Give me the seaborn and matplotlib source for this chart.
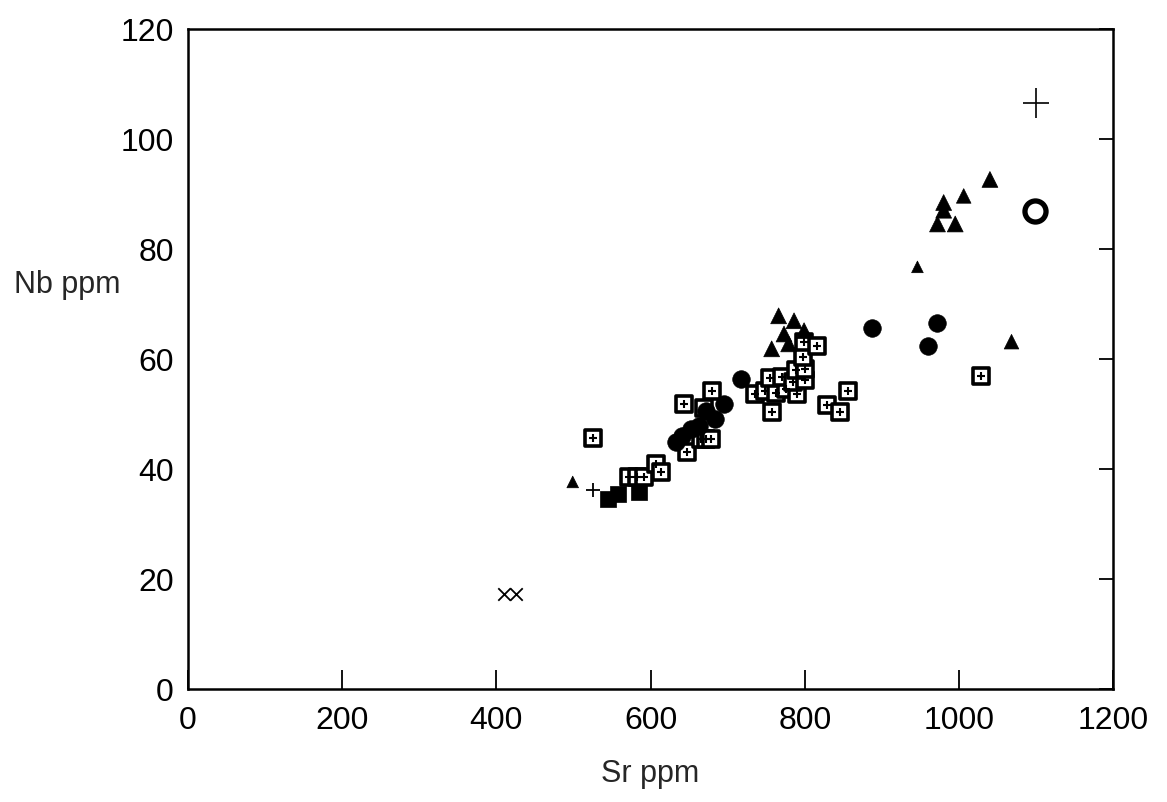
import matplotlib
matplotlib.use("Agg")
import matplotlib.pyplot as plt
import seaborn as sns
import pandas as pd

# values (Sr ppm vs Nb ppm)
tri_sr = [499, 766, 786, 799, 773, 757, 779, 1040, 1006, 980, 980, 972, 995, 946, 1068]
tri_nb = [37.6, 67.8, 66.9, 65.1, 64.5, 61.8, 62.7, 92.6, 89.6, 88.4, 87.0, 84.5, 84.5, 76.7, 63.1]
tri_size = [70, 130, 130, 130, 130, 130, 130, 130, 110, 130, 130, 130, 130, 70, 110]

circ_sr = [633, 641, 652, 663, 672, 683, 695, 717, 887, 960, 972]
circ_nb = [44.9, 46.0, 47.3, 47.8, 50.5, 49.0, 51.8, 56.4, 65.6, 62.4, 66.5]

sq_sr = [525, 572, 582, 592, 607, 614, 643, 647, 665, 672, 678, 680, 669,
         735, 748, 762, 776, 790, 755, 770, 785, 800, 788, 800, 798,
         799, 816, 757, 829, 846, 856, 1029]
sq_nb = [45.6, 38.5, 38.5, 38.5, 40.9, 39.4, 51.8, 43.1, 45.5, 45.5, 45.5, 54.2, 51.0,
         53.5, 54.2, 53.8, 54.5, 53.6, 56.5, 56.7, 55.8, 56.2, 58.0, 58.2, 60.4,
         63.1, 62.4, 50.4, 51.5, 50.4, 54.2, 56.9]

fsq_sr = [545, 558, 585]
fsq_nb = [34.5, 35.5, 35.8]

plus_sr = [525]
plus_nb = [36.2]

x_sr = [410, 426]
x_nb = [17.3, 17.3]

oval_sr = [1099]
oval_nb = [86.9]

# analytical error cross
err_sr, err_nb = 1100, 106.5
err_dx, err_dy = 17, 2.8

sns.set_style("white")
plt.rcParams['font.family'] = ['Liberation Sans', 'DejaVu Sans']

fig = plt.figure(figsize=(11.67, 8.03), dpi=100)
ax = fig.add_axes([0.161, 0.141, 0.793, 0.822])

tri = pd.DataFrame({'sr': tri_sr, 'nb': tri_nb, 'size': tri_size})
sns.scatterplot(data=tri, x='sr', y='nb', size='size', sizes=(70, 130),
                marker='^', color='black', edgecolor='black', linewidth=0.5,
                legend=False, ax=ax, zorder=4)
sns.scatterplot(x=circ_sr, y=circ_nb, marker='o', s=160, color='black',
                edgecolor='black', linewidth=0.5, ax=ax, zorder=4)
sns.scatterplot(x=sq_sr, y=sq_nb, marker='s', s=120, color='white',
                edgecolor='black', linewidth=2.6, ax=ax, zorder=3)
sns.scatterplot(x=sq_sr, y=sq_nb, marker='+', s=40, color='black',
                linewidth=1.5, ax=ax, zorder=3)
sns.scatterplot(x=fsq_sr, y=fsq_nb, marker='s', s=120, color='black',
                edgecolor='black', linewidth=0.5, ax=ax, zorder=3)
sns.scatterplot(x=plus_sr, y=plus_nb, marker='+', s=90, color='black',
                linewidth=1.3, ax=ax, zorder=3)
sns.scatterplot(x=x_sr, y=x_nb, marker='x', s=80, color='black',
                linewidth=1.3, ax=ax, zorder=3)
sns.scatterplot(x=oval_sr, y=oval_nb, marker='o', s=230, color='white',
                edgecolor='black', linewidth=3.8, ax=ax, zorder=3)
ax.errorbar([err_sr], [err_nb], xerr=[err_dx], yerr=[err_dy], fmt='none',
            ecolor='black', elinewidth=1.2, capsize=0)

ax.set_xlim(0, 1200)
ax.set_ylim(0, 120)
ax.set_xticks([0, 200, 400, 600, 800, 1000, 1200])
ax.set_yticks([0, 20, 40, 60, 80, 100, 120])

for side in ['left', 'right', 'top', 'bottom']:
    ax.spines[side].set_visible(True)
    ax.spines[side].set_color('black')
    ax.spines[side].set_linewidth(1.8)

ax.tick_params(axis='x', direction='in', length=14, width=1.3, labelsize=23,
               pad=12, top=False, bottom=True, colors='black')
ax.tick_params(axis='y', direction='in', length=10, width=1.3, labelsize=23,
               pad=10, left=False, right=True, labelleft=True, labelright=False,
               colors='black')

ax.set_xlabel('Sr ppm', fontsize=22, labelpad=16)
ax.set_ylabel('')
fig.text(0.012, 0.645, 'Nb ppm', fontsize=22, ha='left', va='center')

fig.savefig('out.png', dpi=100, facecolor='white')
